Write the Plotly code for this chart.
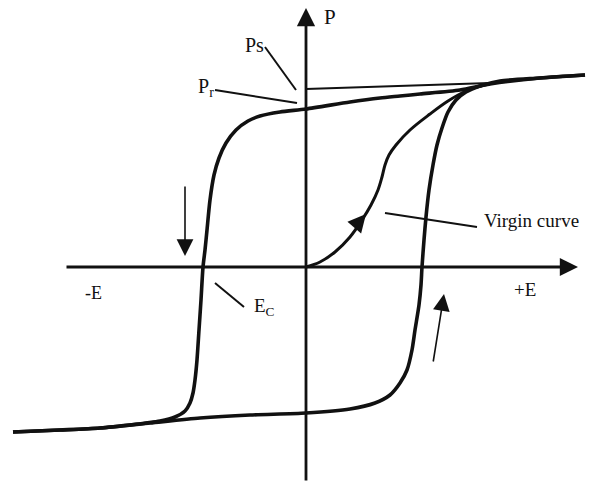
import plotly.graph_objects as go

# Ferroelectric hysteresis loop (field E, polarisation P), arbitrary units
upper_E = [279, 234, 184, 154, 114, 94, 74, 44, 0, -26, -46, -58, -70, -80, -87, -92, -96,
           -99, -101, -103, -105, -107, -109, -111, -113, -116, -121, -131, -146, -176,
           -206, -246, -293]
upper_P = [192, 189, 183, 177, 173, 171, 169, 165, 158, 155, 151, 146, 137, 124, 109, 92, 67,
           37, 17, 0, -33, -63, -93, -113, -126, -136, -144, -150, -154, -158,
           -161, -163, -165]

lower_E = [-293, -246, -206, -156, -106, -56, 0, 44, 69, 84, 94, 101, 106, 109, 113, 115, 116,
           118, 120, 123, 127, 131, 136, 142, 150, 160, 174, 194, 234, 279]
lower_P = [-165, -163, -161, -156, -151, -148, -146, -142, -136, -128, -116, -103, -83, -63,
           -38, -18, 0, 27, 50, 77, 102, 122, 139, 155, 167, 175, 181, 186, 189, 192]

virgin_E = [0, 14, 29, 44, 56, 65, 72, 76, 79, 83, 90, 104, 124, 142, 160, 174, 184]
virgin_P = [0, 5, 15, 30, 47, 62, 77, 90, 102, 112, 122, 137, 153, 166, 176, 181, 183]

# extrapolated saturation line down to the P axis
ps_E = [0, 184]
ps_P = [178, 184]

E_RANGE = [-306, 286]
P_RANGE = [-218, 267]

INK = "#111111"
SERIF = "Liberation Serif, Times New Roman, serif"

fig = go.Figure()
curve = dict(color=INK, width=3.6, shape="spline", smoothing=0.7)
fig.add_trace(go.Scatter(x=upper_E, y=upper_P, mode="lines", line=curve, hoverinfo="skip"))
fig.add_trace(go.Scatter(x=lower_E, y=lower_P, mode="lines", line=curve, hoverinfo="skip"))
fig.add_trace(go.Scatter(x=virgin_E, y=virgin_P, mode="lines",
                         line=dict(color=INK, width=3.0, shape="spline", smoothing=1.0),
                         hoverinfo="skip"))
fig.add_trace(go.Scatter(x=ps_E, y=ps_P, mode="lines", line=dict(color=INK, width=2.2),
                         hoverinfo="skip"))


def arrow(tail, tip, width, size):
    fig.add_annotation(x=tip[0], y=tip[1], ax=tail[0], ay=tail[1],
                       xref="x", yref="y", axref="x", ayref="y", text="",
                       showarrow=True, arrowhead=2, arrowwidth=width, arrowsize=size,
                       arrowcolor=INK)


# coordinate axes
arrow((-241, 0), (272, 0), 2.8, 1.3)
arrow((0, -215), (0, 259), 2.8, 1.3)
# sweep-direction arrows
arrow((-121, 82), (-121, 11), 1.6, 2.1)
arrow((127, -96), (138, -27), 1.6, 2.1)
arrow((48, 39), (60, 53), 2.0, 1.8)

# leader lines
leaders = [((-41, 220), (-10, 177)),   # Ps
           ((-91, 177), (-9, 164)),    # Pr
           ((79, 54), (171, 40)),      # virgin curve
           ((-91, -16), (-62, -40))]   # Ec
for (e0, p0), (e1, p1) in leaders:
    fig.add_shape(type="line", x0=e0, y0=p0, x1=e1, y1=p1, xref="x", yref="y",
                  line=dict(color=INK, width=2))

labels = [
    ("P", 24, 250, "center", 21),
    ("Ps", -52, 222, "center", 20),
    ("P<sub>r</sub>", -100, 180, "center", 20),
    ("Virgin curve", 176, 47, "left", 19),
    ("+E", 219, -22, "center", 19),
    ("-E", -213, -26, "center", 18),
    ("E<sub>C</sub>", -54, -40, "left", 19),
]
for text, e, p, anchor, size in labels:
    fig.add_annotation(x=e, y=p, xref="x", yref="y", text=text, showarrow=False,
                       xanchor=anchor, yanchor="middle",
                       font=dict(family=SERIF, size=size, color=INK))

fig.update_xaxes(range=E_RANGE, visible=False, fixedrange=True)
fig.update_yaxes(range=P_RANGE, visible=False, fixedrange=True)
fig.update_layout(width=592, height=485, margin=dict(l=0, r=0, t=0, b=0),
                  paper_bgcolor="white", plot_bgcolor="white", showlegend=False)

fig.write_html("out.html", config={"displayModeBar": False})
